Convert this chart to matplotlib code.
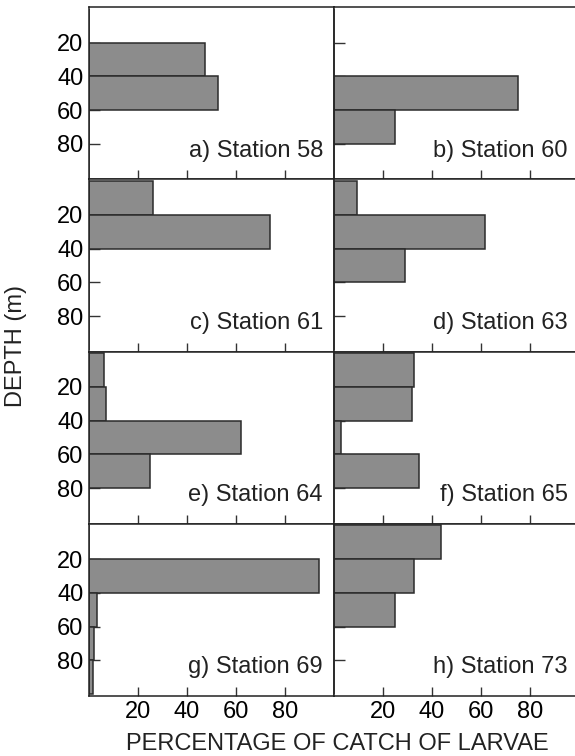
import matplotlib.pyplot as plt
import numpy as np

plt.rcParams['font.family'] = ['Liberation Sans', 'DejaVu Sans']

# depth bins (m), bar centres; each bar spans 20 m
depth_bins = [10, 30, 50, 70, 90]

stations = ["a) Station 58", "b) Station 60", "c) Station 61", "d) Station 63",
            "e) Station 64", "f) Station 65", "g) Station 69", "h) Station 73"]

st58 = [0, 47.5, 52.5, 0, 0]
st60 = [0, 0, 75, 25, 0]
st61 = [26, 74, 0, 0, 0]
st63 = [9.5, 61.5, 29, 0, 0]
st64 = [6, 7, 62, 25, 0]
st65 = [32.5, 32, 3, 34.5, 0]
st69 = [0, 94, 3.4, 1.9, 1.7]
st73 = [43.5, 32.5, 25, 0, 0]

values = [st58, st60, st61, st63, st64, st65, st69, st73]

x_ticks = [20, 40, 60, 80]
y_ticks = [20, 40, 60, 80]

fs = 17
fig = plt.figure(figsize=(5.75, 7.56), dpi=100)

left0 = 89 / 575
left1 = 334 / 575
w = 245 / 575
h = 172.1 / 756
bottom0 = 1 - 695.7 / 756

for i, (name, vals) in enumerate(zip(stations, values)):
    row = i // 2
    col = i % 2
    x0 = left0 if col == 0 else left1
    y0 = bottom0 + (3 - row) * h
    ax = fig.add_axes([x0, y0, w, h])
    ax.set_axisbelow(True)
    ax.barh(depth_bins, vals, height=20, color='#8c8c8c',
            edgecolor='#2b2b2b', linewidth=1.1, zorder=2)
    ax.set_xlim(0, 100)
    ax.set_ylim(101, -1)
    ax.set_xticks(x_ticks)
    ax.set_yticks(y_ticks)
    ax.tick_params(axis='both', direction='in', width=1, color='#333333',
                   labelsize=fs, pad=4)
    ax.tick_params(axis='y', length=8)
    ax.tick_params(axis='x', length=6.5)
    for s in ax.spines.values():
        s.set_linewidth(1.1)
        s.set_color('#222222')
    if col == 1:
        ax.set_yticklabels([])
    if row != 3:
        ax.set_xticklabels([])
    ax.text(0.955, 0.165, name, transform=ax.transAxes, ha='right',
            va='center', fontsize=fs, color='#222222')

fig.text(337 / 575, 1 - 744 / 756, "PERCENTAGE OF CATCH OF LARVAE",
         ha='center', va='center', fontsize=fs, color='#222222')
fig.text(16 / 575, 1 - 346 / 756, "DEPTH (m)", rotation=90,
         ha='center', va='center', fontsize=fs, color='#222222')

fig.savefig('out.png', dpi=100)
